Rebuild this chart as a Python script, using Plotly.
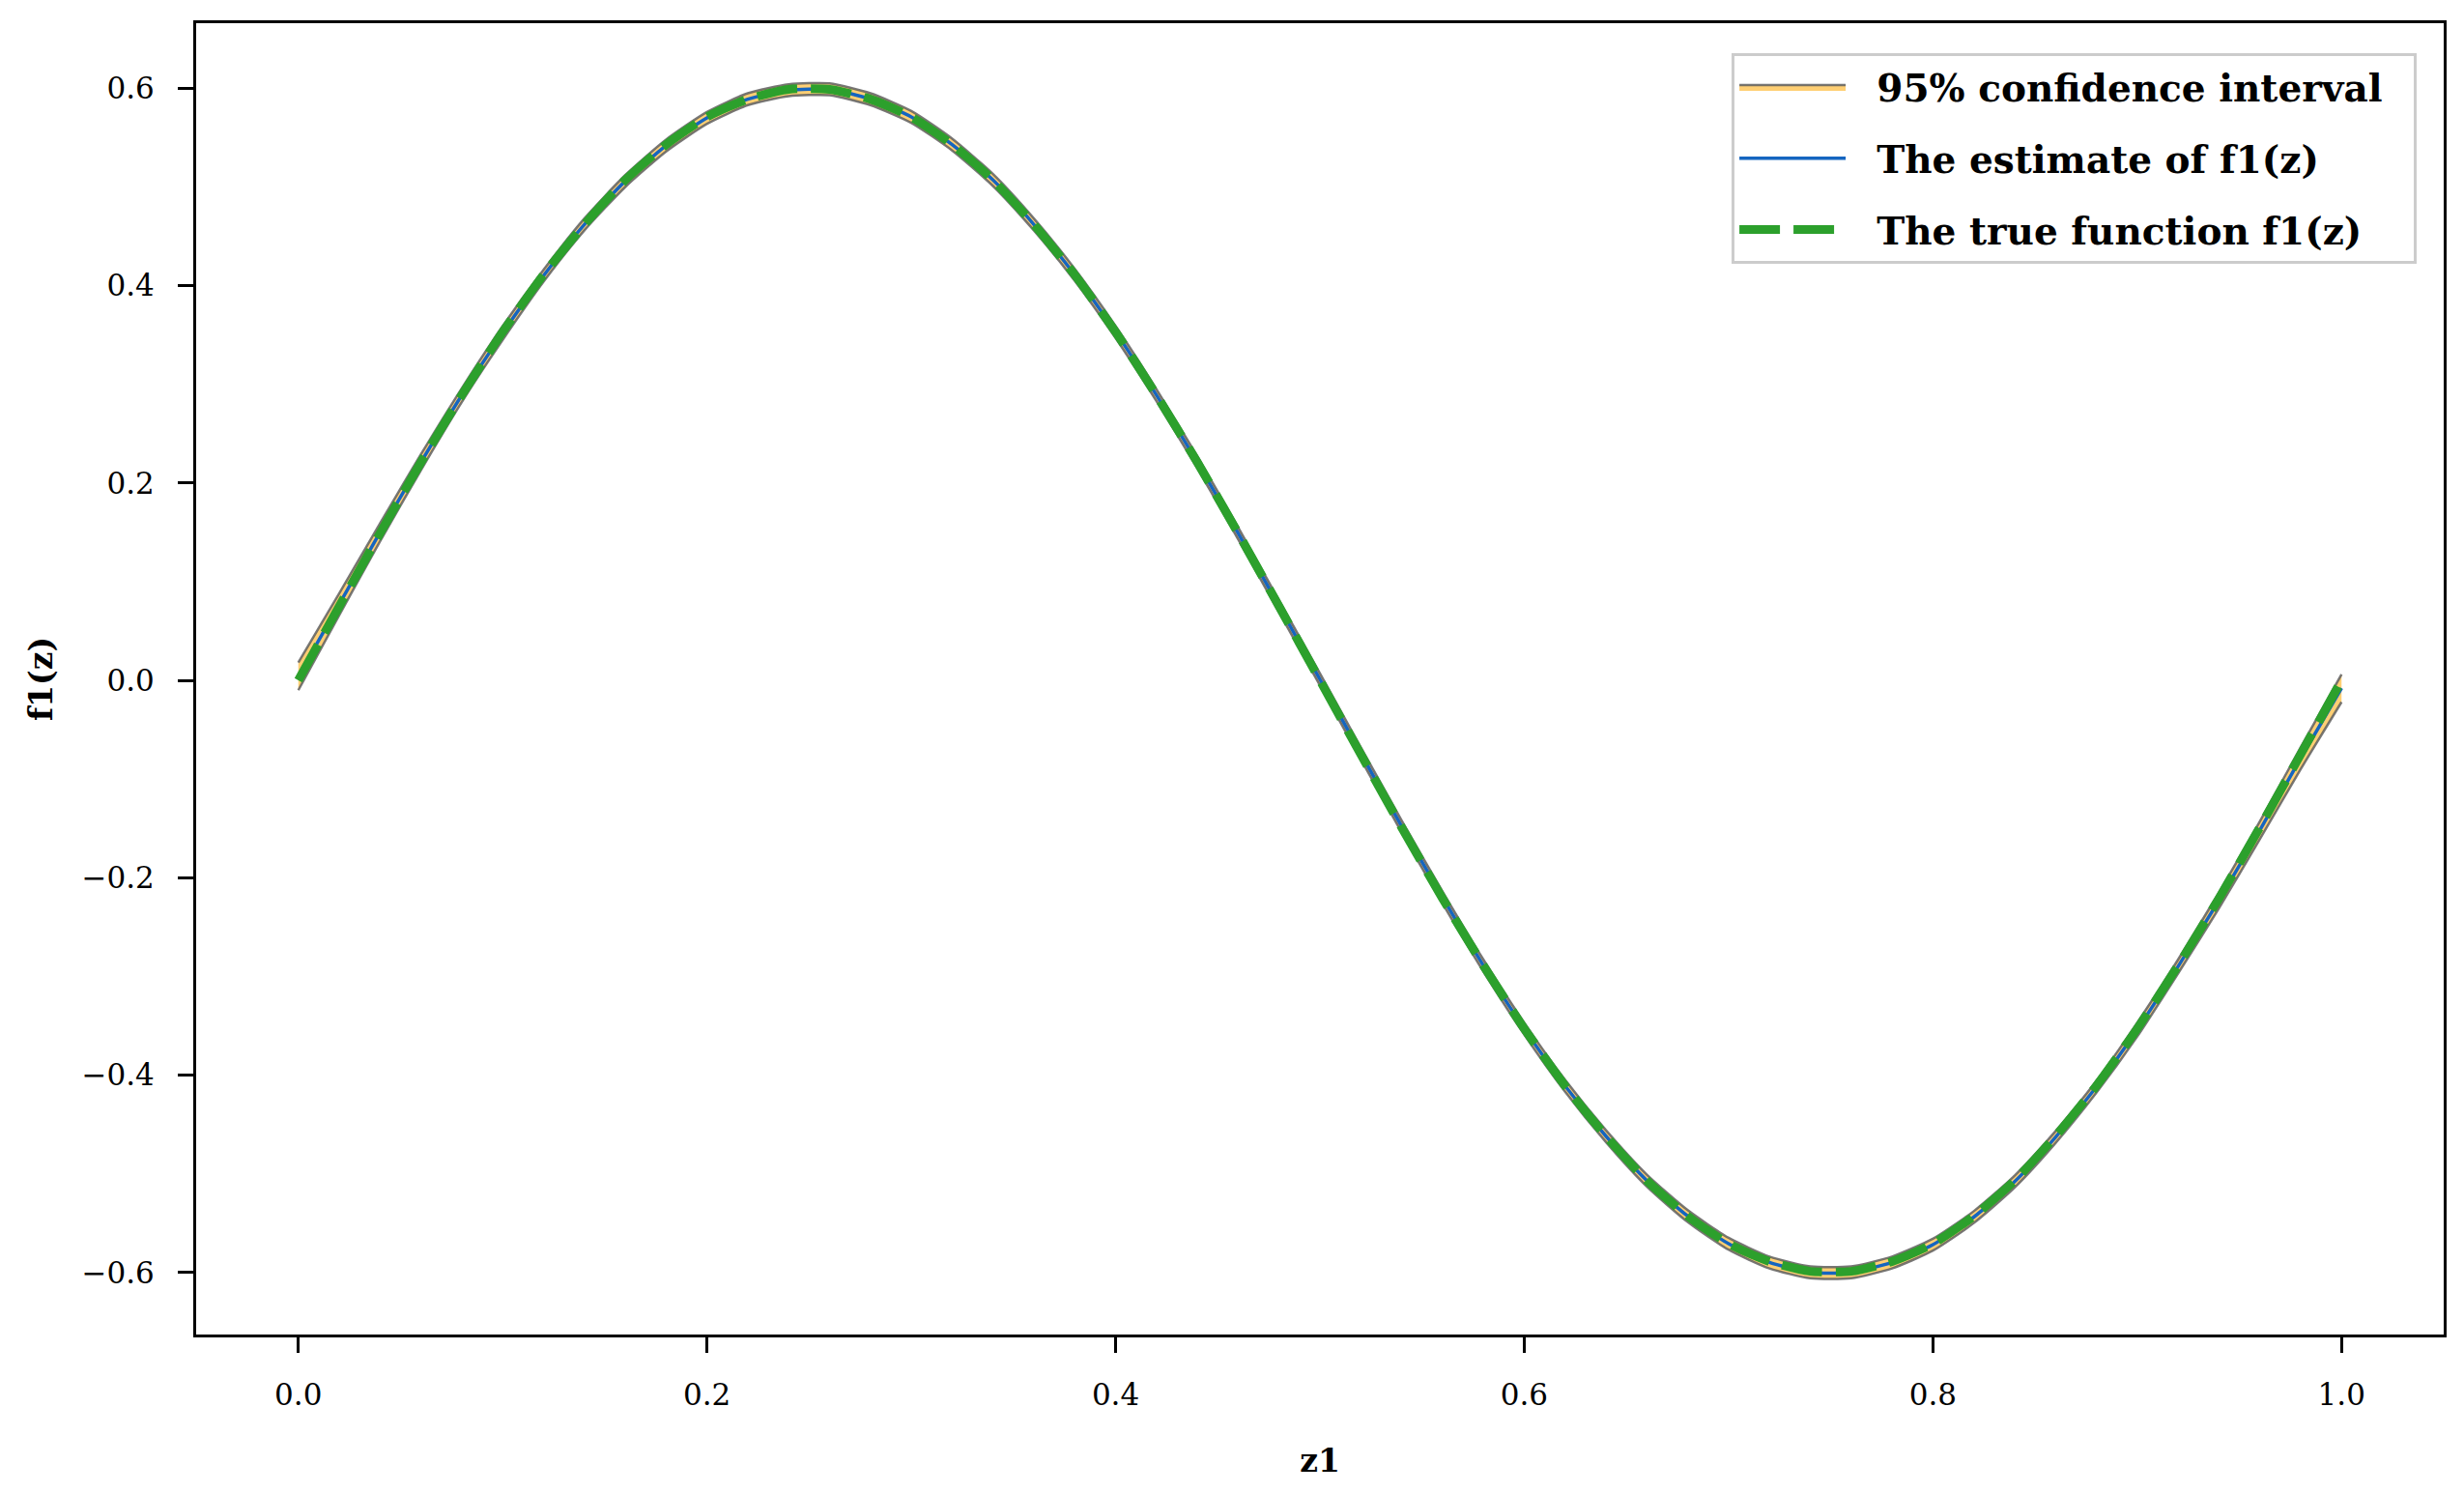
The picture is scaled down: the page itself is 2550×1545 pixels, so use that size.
import plotly.graph_objects as go

# ---- data ----
z = [0.00, 0.02, 0.04, 0.06, 0.08, 0.10, 0.12, 0.14, 0.16, 0.18,
     0.20, 0.22, 0.24, 0.26, 0.28, 0.30, 0.32, 0.34, 0.36, 0.38,
     0.40, 0.42, 0.44, 0.46, 0.48, 0.50, 0.52, 0.54, 0.56, 0.58,
     0.60, 0.62, 0.64, 0.66, 0.68, 0.70, 0.72, 0.74, 0.76, 0.78,
     0.80, 0.82, 0.84, 0.86, 0.88, 0.90, 0.92, 0.94, 0.96, 0.98, 1.00]

true_f = [0.000, 0.075, 0.149, 0.221, 0.289, 0.353, 0.411, 0.462, 0.507, 0.543,
          0.571, 0.589, 0.599, 0.599, 0.589, 0.571, 0.543, 0.507, 0.462, 0.411,
          0.353, 0.289, 0.221, 0.149, 0.075, 0.000, -0.075, -0.149, -0.221, -0.289,
          -0.353, -0.411, -0.462, -0.507, -0.543, -0.571, -0.589, -0.599, -0.599, -0.589,
          -0.571, -0.543, -0.507, -0.462, -0.411, -0.353, -0.289, -0.221, -0.149, -0.075, 0.000]

estimate = [0.004, 0.077, 0.150, 0.221, 0.289, 0.352, 0.410, 0.462, 0.506, 0.542,
            0.570, 0.589, 0.598, 0.599, 0.589, 0.571, 0.543, 0.507, 0.462, 0.411,
            0.353, 0.289, 0.221, 0.149, 0.075, 0.001, -0.074, -0.148, -0.220, -0.289,
            -0.353, -0.411, -0.462, -0.507, -0.543, -0.571, -0.590, -0.600, -0.600, -0.590,
            -0.572, -0.544, -0.508, -0.463, -0.412, -0.354, -0.290, -0.223, -0.152, -0.079, -0.008]

ci_lower = [-0.010, 0.066, 0.141, 0.213, 0.282, 0.345, 0.404, 0.456, 0.500, 0.536,
            0.564, 0.583, 0.592, 0.593, 0.583, 0.565, 0.537, 0.501, 0.456, 0.405,
            0.347, 0.283, 0.215, 0.143, 0.069, -0.005, -0.080, -0.154, -0.226, -0.295,
            -0.359, -0.417, -0.468, -0.513, -0.549, -0.577, -0.596, -0.606, -0.606, -0.596,
            -0.578, -0.550, -0.514, -0.469, -0.418, -0.361, -0.297, -0.231, -0.161, -0.090, -0.022]

ci_upper = [0.018, 0.088, 0.159, 0.229, 0.296, 0.359, 0.416, 0.468, 0.512, 0.548,
            0.576, 0.595, 0.604, 0.605, 0.595, 0.577, 0.549, 0.513, 0.468, 0.417,
            0.359, 0.295, 0.227, 0.155, 0.081, 0.007, -0.068, -0.142, -0.214, -0.283,
            -0.347, -0.405, -0.456, -0.501, -0.537, -0.565, -0.584, -0.594, -0.594, -0.584,
            -0.566, -0.538, -0.502, -0.457, -0.406, -0.347, -0.283, -0.215, -0.143, -0.068, 0.006]

x_tickvals = [0.0, 0.2, 0.4, 0.6, 0.8, 1.0]
x_ticktext = ["0.0", "0.2", "0.4", "0.6", "0.8", "1.0"]
y_tickvals = [-0.6, -0.4, -0.2, 0.0, 0.2, 0.4, 0.6]
y_ticktext = ["\u22120.6", "\u22120.4", "\u22120.2", "0.0", "0.2", "0.4", "0.6"]

label_ci = "95% confidence interval"
label_est = "The estimate of f1(z)"
label_true = "The true function f1(z)"

FONT = "DejaVu Serif"
GAP = "\u00a0\u00a0"
PAD = "\u00a0\u00a0"

fig = go.Figure()
fig.add_trace(go.Scatter(x=z, y=ci_lower, mode="lines",
                         line=dict(color="rgba(95,95,95,0.85)", width=2.5, shape="spline", smoothing=0.6),
                         showlegend=False, legendgroup="ci", hoverinfo="skip"))
fig.add_trace(go.Scatter(x=z, y=ci_upper, mode="lines", fill="tonexty",
                         fillcolor="rgba(255,195,80,0.8)",
                         line=dict(color="rgba(95,95,95,0.85)", width=2.5, shape="spline", smoothing=0.6),
                         name=GAP + label_ci + PAD, legendgroup="ci"))
fig.add_trace(go.Scatter(x=z, y=estimate, mode="lines",
                         line=dict(color="#1565c0", width=3.5, shape="spline", smoothing=0.6),
                         name=GAP + label_est, legendgroup="est"))
fig.add_trace(go.Scatter(x=z, y=true_f, mode="lines",
                         line=dict(color="#2ca02c", width=9, dash="42px,14px", shape="spline", smoothing=0.6),
                         name=GAP + label_true, legendgroup="true"))

axis_common = dict(showline=True, linecolor="black", linewidth=3, mirror=True,
                   ticks="outside", ticklen=16, tickwidth=3, tickcolor="black",
                   showgrid=False, zeroline=False,
                   tickfont=dict(family=FONT, size=31, color="black"))

fig.update_layout(
    width=2550, height=1545,
    margin=dict(l=203, r=21, t=24, b=164),
    plot_bgcolor="white", paper_bgcolor="white",
    xaxis=dict(range=[-0.05, 1.05], tickvals=x_tickvals, ticktext=x_ticktext,
               ticklabelstandoff=17,
               title=dict(text="z1", standoff=40,
                          font=dict(family=FONT, size=33, color="black", weight="bold")),
               **axis_common),
    yaxis=dict(range=[-0.663, 0.666], tickvals=y_tickvals, ticktext=y_ticktext,
               ticklabelstandoff=18,
               title=dict(text="f1(z)", standoff=20,
                          font=dict(family=FONT, size=33, color="black", weight="bold")),
               **axis_common),
    legend=dict(x=0.988, y=0.977, xanchor="right", yanchor="top",
                bgcolor="rgba(255,255,255,0.85)", bordercolor="#cccccc", borderwidth=3,
                font=dict(family=FONT, size=39, color="black", weight="bold"),
                traceorder="grouped", tracegroupgap=20, itemwidth=110),
    showlegend=True,
)

fig.write_html("out.html", config={"displayModeBar": False},
               post_script="document.body.style.margin='0';document.body.style.padding='0';")
